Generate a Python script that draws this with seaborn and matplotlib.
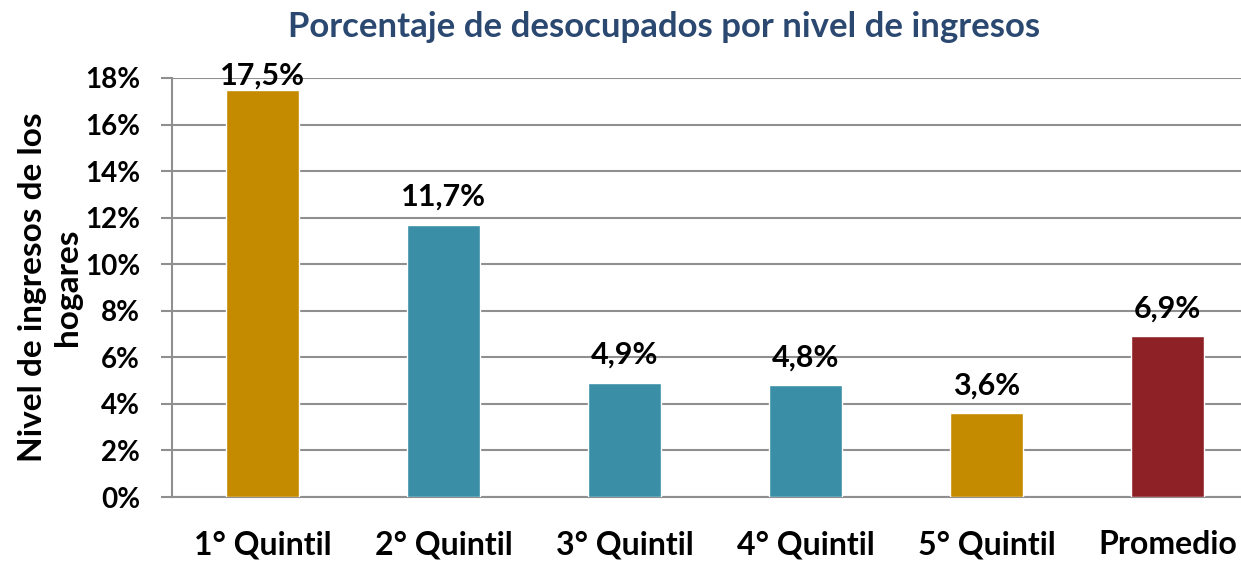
import numpy as np
import pandas as pd
import seaborn as sns
import matplotlib.pyplot as plt

categorias = ["1° Quintil", "2° Quintil", "3° Quintil", "4° Quintil", "5° Quintil", "Promedio"]
valores = [17.5, 11.7, 4.9, 4.8, 3.6, 6.9]
colores = ["#C58B00", "#3A8FA7", "#3A8FA7", "#3A8FA7", "#C58B00", "#8E2126"]
y_ticks = [0, 2, 4, 6, 8, 10, 12, 14, 16, 18]

sns.set_theme(style="white")
plt.rcParams["font.family"] = ["Lato", "DejaVu Sans"]
plt.rcParams["text.color"] = "black"
plt.rcParams["xtick.labelcolor"] = "black"
plt.rcParams["ytick.labelcolor"] = "black"
plt.rcParams["axes.labelcolor"] = "black"

df = pd.DataFrame({"cat": categorias, "val": valores})

fig = plt.figure(figsize=(12.41, 5.61), dpi=100)
ax = fig.add_axes([0.1386, 0.114, 0.875, 0.747])

sns.barplot(data=df, x="cat", y="val", hue="cat", palette=colores,
            width=0.4, legend=False, ax=ax, saturation=1, zorder=3)

ax.set_ylim(0, 18)
ax.set_xlim(-0.5, 5.5)
ax.set_yticks(y_ticks)
ax.set_yticklabels([f"{t}%" for t in y_ticks], fontsize=20, fontweight="bold")
ax.yaxis.grid(True, color="#8f8f8f", linewidth=1.5, zorder=0)
ax.set_axisbelow(True)

# ticks between categories, labels at centres
ax.set_xticks(range(len(categorias)))
ax.set_xticklabels(categorias, fontsize=23, fontweight="bold")
ax.set_xticks(np.arange(-0.5, 6, 1), minor=True)
ax.tick_params(axis="x", which="major", length=0, pad=24)
ax.tick_params(axis="x", which="minor", length=8, width=1.5, color="#8f8f8f")
ax.tick_params(axis="y", length=8, width=1.5, color="#8f8f8f", left=True, pad=15)

for s in ["top", "right"]:
    ax.spines[s].set_visible(False)
for s in ["left", "bottom"]:
    ax.spines[s].set_color("#8f8f8f")
    ax.spines[s].set_linewidth(1.5)

for i, v in enumerate(valores):
    ax.text(i, min(v + 1.2, 18.1), f"{v:.1f}%".replace(".", ","),
            ha="center", va="center", fontsize=22, fontweight="bold", clip_on=False)

ax.set_xlabel("")
ax.set_ylabel("Nivel de ingresos de los\nhogares", fontsize=24, fontweight="bold",
              labelpad=2, linespacing=1.25)

fig.suptitle("Porcentaje de desocupados por nivel de ingresos", x=0.535, y=0.98,
             fontsize=25, fontweight="bold", color="#2B4870")

fig.savefig("out.png", dpi=100)
